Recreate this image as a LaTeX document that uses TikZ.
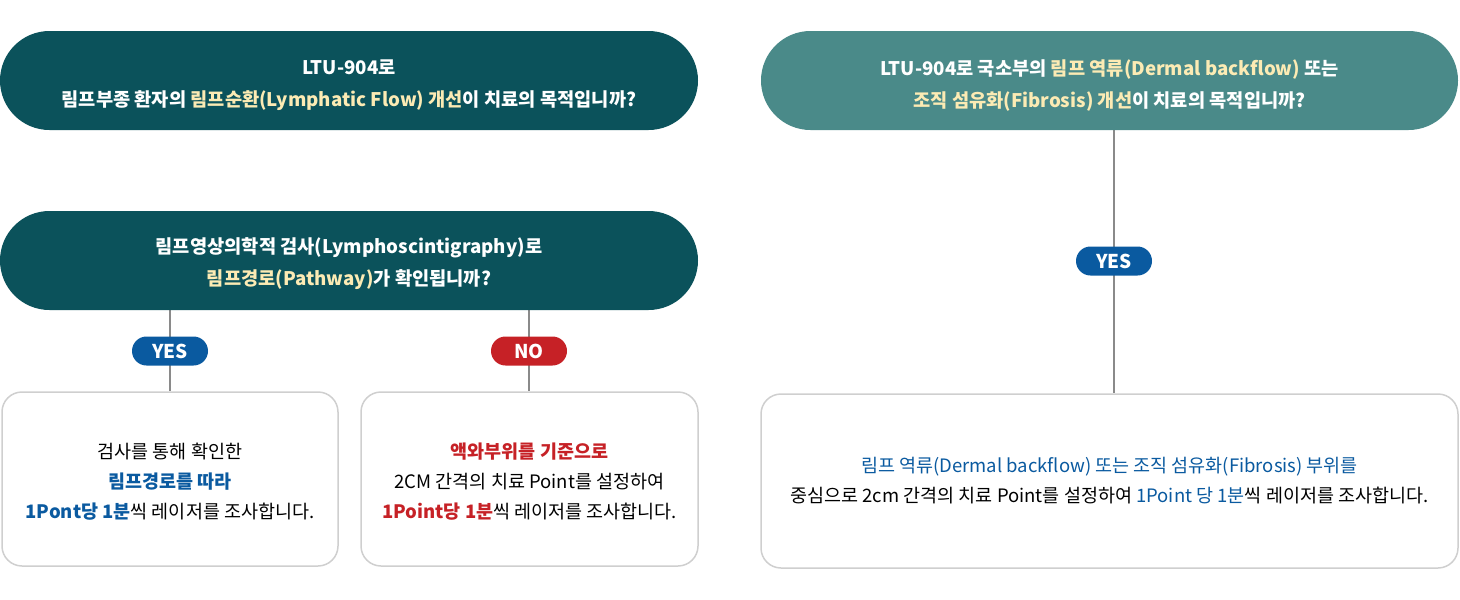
\documentclass[tikz,border=0pt]{standalone}
\usepackage{fontspec}
\setmainfont{Noto Sans CJK KR}
\usetikzlibrary{backgrounds}
\definecolor{darkteal}{HTML}{0B525B}
\definecolor{lightteal}{HTML}{4A8A89}
\definecolor{hl}{HTML}{FCEBB4}
\definecolor{yesblue}{HTML}{0A5AA0}
\definecolor{nored}{HTML}{C62126}
\definecolor{boxgray}{HTML}{CFCFCF}
\definecolor{linegray}{HTML}{8A8A8A}
\newcommand{\pillstrut}[1]{\rule{0pt}{#1}}
\tikzset{
  pill/.style={rectangle, rounded corners=49.5pt, minimum height=99pt, text=white, align=center,
    font=\fontsize{18.7}{32}\selectfont\bfseries, inner sep=0pt},
  tag/.style={rectangle, rounded corners=14.5pt, minimum width=76pt, minimum height=29pt, text=white,
    font=\fontsize{19}{20}\selectfont\bfseries, inner sep=0pt},
  card/.style={rectangle, rounded corners=20pt, draw=boxgray, line width=1.5pt, fill=white, minimum height=174pt,
    align=center, font=\fontsize{18.5}{30}\selectfont, inner sep=0pt},
  conn/.style={draw=linegray, line width=1.5pt}
}
\begin{document}
\begin{tikzpicture}[x=1pt,y=-1pt]
\useasboundingbox (0,0) rectangle (1460,600);
\node[pill, fill=darkteal, minimum width=698pt] (q1) at (349,80.5)
  {\pillstrut{25pt}LTU-904로\\림프부종 환자의 \textcolor{hl}{림프순환(Lymphatic Flow) 개선}이 치료의 목적입니까?};
\node[pill, fill=lightteal, minimum width=697pt] (q2) at (1109.5,80.5)
  {\pillstrut{25pt}LTU-904로 국소부의 \textcolor{hl}{림프 역류(Dermal backflow)} 또는\\\textcolor{hl}{조직 섬유화(Fibrosis) 개선}이 치료의 목적입니까?};
\node[pill, fill=darkteal, minimum width=698pt] (q3) at (349,260.5)
  {\pillstrut{23pt}림프영상의학적 검사(Lymphoscintigraphy)로\\\textcolor{hl}{림프경로(Pathway)}가 확인됩니까?};
\node[card, minimum width=336pt] (b1) at (170,479)
  {\pillstrut{21pt}검사를 통해 확인한\\\textcolor{yesblue}{\bfseries 림프경로를 따라}\\\textcolor{yesblue}{\bfseries 1Pont당 1분}씩 레이저를 조사합니다.};
\node[card, minimum width=337pt] (b2) at (529.5,479)
  {\pillstrut{21pt}\textcolor{nored}{\bfseries 액와부위를 기준으로}\\2CM 간격의 치료 Point를 설정하여\\\textcolor{nored}{\bfseries 1Point당 1분}씩 레이저를 조사합니다.};
\node[card, minimum width=697pt] (b3) at (1109.5,481)
  {\textcolor{yesblue}{림프 역류(Dermal backflow) 또는 조직 섬유화(Fibrosis) 부위를}\\중심으로 2cm 간격의 치료 Point를 설정하여 \textcolor{yesblue}{1Point 당 1분}씩 레이저를 조사합니다.};
\node[tag, fill=yesblue] (y1) at (170,351) {YES};
\node[tag, fill=nored] (n1) at (529,351) {NO};
\node[tag, fill=yesblue] (y2) at (1114,261) {YES};
\begin{pgfonlayer}{background}
\draw[conn] (q3.south -| y1) -- (b1.north -| y1);
\draw[conn] (q3.south -| n1) -- (b2.north -| n1);
\draw[conn] (q2.south -| y2) -- (b3.north -| y2);
\end{pgfonlayer}
\end{tikzpicture}
\end{document}
